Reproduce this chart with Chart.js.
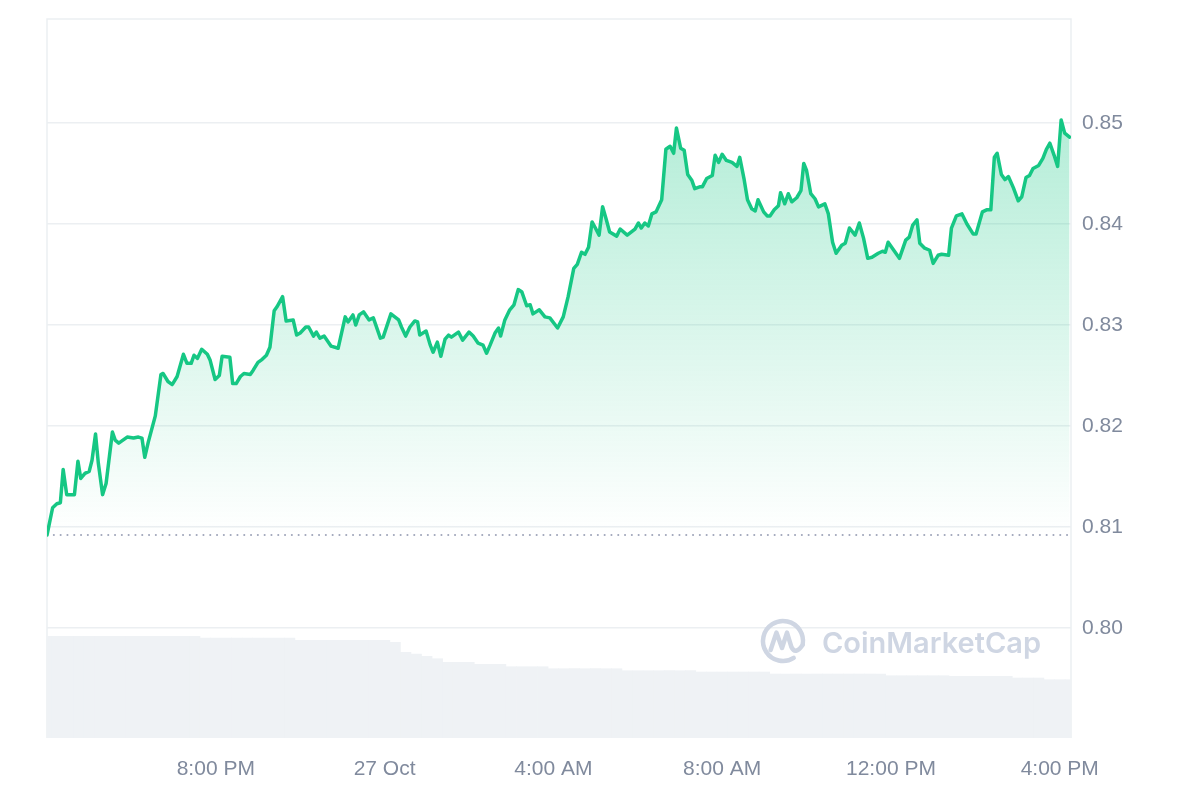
<!DOCTYPE html>
<html>
<head>
<meta charset="utf-8">
<script src="https://cdn.jsdelivr.net/npm/chart.js@4.4.0/dist/chart.umd.min.js"></script>
<style>
html,body{margin:0;padding:0;background:#ffffff;}
#wrap{width:1200px;height:800px;position:relative;}
</style>
</head>
<body>
<div id="wrap"><canvas id="c" width="1200" height="800"></canvas></div>
<script>
// Time in minutes after 26 Oct 4:00 PM
const priceTimes = [0,8,14,19,23,28,39,44,48,54,60,64,69,73,79,84,93,97,102,114,123,130,135,139,144,154,162,165,172,178,185,194,199,205,209,214,220,228,232,239,245,249,260,264,269,275,280,289,293,300,306,312,317,323,327,335,340,350,355,360,368,372,379,383,388,394,404,414,424,428,435,439,444,450,458,464,474,478,489,500,504,510,516,523,527,530,539,545,549,555,560,566,571,575,585,591,600,606,613,620,625,630,637,642,645,651,658,664,670,675,682,687,691,700,708,715,726,734,741,749,754,760,765,770,775,779,785,790,795,800,810,815,825,836,841,845,850,855,860,866,874,880,886,891,895,901,906,911,917,921,929,932,938,946,950,955,960,966,974,981,985,991,996,1002,1007,1011,1019,1024,1028,1034,1040,1043,1049,1054,1059,1066,1072,1076,1080,1086,1092,1097,1106,1111,1117,1122,1130,1135,1141,1149,1155,1161,1167,1173,1182,1188,1192,1196,1203,1212,1221,1226,1231,1237,1241,1248,1255,1260,1267,1272,1282,1286,1293,1301,1308,1317,1321,1330,1336,1342,1347,1351,1357,1362,1367,1374,1381,1386,1392,1397,1402,1410,1416,1421,1426,1432,1437,1442,1447,1454];
const priceValues = [0.8092,0.8119,0.8123,0.8124,0.8157,0.8132,0.8132,0.8165,0.8148,0.8153,0.8155,0.8166,0.8192,0.8163,0.8132,0.8143,0.8194,0.8186,0.8183,0.8189,0.8188,0.8189,0.8188,0.8169,0.8184,0.8210,0.8251,0.8252,0.8244,0.8241,0.8249,0.8271,0.8262,0.8262,0.8270,0.8267,0.8276,0.8271,0.8265,0.8246,0.8250,0.8269,0.8268,0.8242,0.8242,0.8249,0.8252,0.8251,0.8255,0.8263,0.8266,0.8270,0.8278,0.8314,0.8318,0.8328,0.8304,0.8305,0.8290,0.8292,0.8298,0.8298,0.8289,0.8293,0.8287,0.8289,0.8279,0.8277,0.8308,0.8303,0.8310,0.8300,0.8310,0.8313,0.8305,0.8307,0.8287,0.8288,0.8311,0.8305,0.8298,0.8289,0.8298,0.8304,0.8303,0.8290,0.8294,0.8280,0.8273,0.8283,0.8269,0.8286,0.8290,0.8288,0.8293,0.8285,0.8293,0.8289,0.8282,0.8280,0.8272,0.8280,0.8292,0.8297,0.8289,0.8305,0.8315,0.8320,0.8335,0.8333,0.8319,0.8320,0.8311,0.8315,0.8308,0.8307,0.8297,0.8308,0.8328,0.8356,0.8360,0.8372,0.8370,0.8377,0.8402,0.8397,0.8389,0.8417,0.8405,0.8392,0.8388,0.8395,0.8389,0.8395,0.8401,0.8396,0.8401,0.8398,0.8410,0.8412,0.8424,0.8474,0.8477,0.8470,0.8495,0.8475,0.8473,0.8449,0.8443,0.8435,0.8437,0.8437,0.8445,0.8448,0.8468,0.8461,0.8469,0.8463,0.8461,0.8457,0.8466,0.8445,0.8424,0.8415,0.8413,0.8424,0.8412,0.8408,0.8408,0.8414,0.8418,0.8431,0.8420,0.8430,0.8422,0.8426,0.8433,0.8460,0.8453,0.8430,0.8425,0.8417,0.8420,0.8410,0.8382,0.8371,0.8379,0.8381,0.8396,0.8389,0.8401,0.8386,0.8366,0.8367,0.8371,0.8373,0.8372,0.8382,0.8375,0.8366,0.8384,0.8387,0.8399,0.8404,0.8381,0.8376,0.8374,0.8361,0.8369,0.8370,0.8369,0.8396,0.8408,0.8410,0.8400,0.8390,0.8390,0.8412,0.8414,0.8414,0.8466,0.8470,0.8449,0.8444,0.8447,0.8436,0.8423,0.8427,0.8446,0.8448,0.8455,0.8458,0.8465,0.8474,0.8480,0.8468,0.8457,0.8503,0.8490,0.8486];

// Volume (relative units), one bar per 15 minutes
const volumeTimes = [0,15,30,45,60,75,90,105,120,135,150,165,180,195,210,225,240,255,270,285,300,315,330,345,360,375,390,405,420,435,450,465,480,495,510,525,540,555,570,585,600,615,630,645,660,675,690,705,720,735,750,765,780,795,810,825,840,855,870,885,900,915,930,945,960,975,990,1005,1020,1035,1050,1065,1080,1095,1110,1125,1140,1155,1170,1185,1200,1215,1230,1245,1260,1275,1290,1305,1320,1335,1350,1365,1380,1395,1410,1425,1440,1455];
const volumeValues = [10.17,10.17,10.17,10.17,10.17,10.17,10.17,10.17,10.17,10.17,10.17,10.17,10.17,10.17,10.17,10.00,10.00,10.00,10.00,10.00,10.00,10.00,10.00,10.00,9.77,9.77,9.77,9.77,9.77,9.77,9.77,9.77,9.77,9.57,8.57,8.40,8.17,7.93,7.57,7.57,7.57,7.37,7.37,7.37,7.13,7.13,7.13,7.13,6.93,6.93,6.93,6.93,6.93,6.93,6.93,6.73,6.73,6.73,6.73,6.73,6.73,6.73,6.60,6.60,6.60,6.60,6.60,6.60,6.60,6.40,6.40,6.40,6.40,6.40,6.40,6.40,6.40,6.40,6.40,6.40,6.23,6.23,6.23,6.23,6.23,6.23,6.17,6.17,6.17,6.17,6.17,6.17,6.00,6.00,6.00,5.83,5.83,5.83];

const openPrice = 0.8092;
const xMin = 0, xMax = 1456;
const yMin = 0.7891, yMax = 0.8603;
const volMax = 71.9;
const yTickValues = [0.80, 0.81, 0.82, 0.83, 0.84, 0.85];
const xTickMinutes = [240, 480, 720, 960, 1200, 1440];
const xTickLabels = ["8:00 PM", "27 Oct", "4:00 AM", "8:00 AM", "12:00 PM", "4:00 PM"];
const watermarkText = "CoinMarketCap";

const GREEN = '#16c784';
const GRID = '#eceff2';
const LABEL = '#808a9d';

Chart.defaults.font.family = '"Liberation Sans", Arial, Helvetica, sans-serif';
Chart.defaults.font.size = 21;
Chart.defaults.color = LABEL;

const frame = {
  id: 'frame',
  beforeDatasetsDraw(chart) {
    const {ctx, chartArea: a} = chart;
    ctx.save();
    ctx.strokeStyle = GRID;
    ctx.lineWidth = 1.5;
    ctx.beginPath();
    ctx.moveTo(a.left, a.bottom);
    ctx.lineTo(a.left, a.top);
    ctx.lineTo(a.right, a.top);
    ctx.lineTo(a.right, a.bottom);
    ctx.stroke();
    ctx.restore();
  }
};

const watermark = {
  id: 'watermark',
  beforeDatasetsDraw(chart) {
    const {ctx, chartArea: a} = chart;
    const color = '#cfd6e3';
    const cx = a.right - 288, cy = a.bottom - 97, r = 20;
    ctx.save();
    ctx.strokeStyle = color;
    ctx.lineWidth = 4.5;
    ctx.lineCap = 'round';
    ctx.lineJoin = 'round';
    ctx.beginPath();
    ctx.arc(cx, cy, r, 0.32 * Math.PI, 2.05 * Math.PI);
    ctx.stroke();
    ctx.beginPath();
    ctx.moveTo(cx - 0.62 * r, cy + 0.45 * r);
    ctx.lineTo(cx - 0.33 * r, cy - 0.42 * r);
    ctx.lineTo(cx - 0.05 * r, cy + 0.35 * r);
    ctx.lineTo(cx + 0.2 * r, cy - 0.42 * r);
    ctx.lineTo(cx + 0.42 * r, cy + 0.3 * r);
    ctx.quadraticCurveTo(cx + 0.62 * r, cy + 0.72 * r, cx + 0.98 * r, cy + 0.2 * r);
    ctx.stroke();
    ctx.fillStyle = color;
    ctx.font = '600 29px Inter, "Noto Sans", sans-serif';
    ctx.textBaseline = 'alphabetic';
    ctx.textAlign = 'left';
    ctx.fillText(watermarkText, cx + 39, cy + 12);
    ctx.restore();
  }
};

const priceData = priceTimes.map((t, i) => ({x: t, y: priceValues[i]}));
const volumeData = volumeTimes.map((t, i) => ({x: t, y: volumeValues[i]}));

new Chart(document.getElementById('c'), {
  type: 'line',
  data: {
    datasets: [
      {
        type: 'line',
        label: 'Price',
        data: priceData,
        yAxisID: 'y',
        borderColor: GREEN,
        borderWidth: 3.5,
        borderJoinStyle: 'round',
        borderCapStyle: 'round',
        pointRadius: 0,
        tension: 0,
        order: 0,
        fill: {value: openPrice},
        backgroundColor: (c) => {
          const chart = c.chart;
          const a = chart.chartArea;
          if (!a) return 'rgba(22,199,132,0.2)';
          const yb = chart.scales.y.getPixelForValue(openPrice);
          const g = chart.ctx.createLinearGradient(0, a.top, 0, yb);
          g.addColorStop(0, 'rgba(22,199,132,0.40)');
          g.addColorStop(1, 'rgba(22,199,132,0.0)');
          return g;
        }
      },
      {
        type: 'line',
        label: 'Open',
        data: [{x: xMin, y: openPrice}, {x: xMax, y: openPrice}],
        yAxisID: 'y',
        borderColor: '#a1a7bb',
        borderWidth: 2,
        borderDash: [0.1, 6.7],
        borderCapStyle: 'round',
        pointRadius: 0,
        fill: false,
        order: 1
      },
      {
        type: 'bar',
        label: 'Volume',
        data: volumeData,
        yAxisID: 'yVol',
        backgroundColor: '#eff2f5',
        borderWidth: 0,
        barPercentage: 1,
        categoryPercentage: 1,
        order: 2
      }
    ]
  },
  options: {
    responsive: false,
    animation: false,
    devicePixelRatio: 1,
    layout: {padding: {left: 47, top: 19, right: 0, bottom: 0}},
    plugins: {legend: {display: false}, tooltip: {enabled: false}},
    scales: {
      x: {
        type: 'linear',
        min: xMin,
        max: xMax,
        offset: false,
        grid: {display: false, offset: false, drawTicks: false},
        border: {display: false},
        afterBuildTicks: (s) => { s.ticks = xTickMinutes.map(v => ({value: v})); },
        afterFit: (s) => { s.height = 62; s.paddingLeft = 0; s.paddingRight = 0; },
        ticks: {
          autoSkip: false,
          maxRotation: 0,
          padding: 19,
          color: LABEL,
          callback: (v, i) => xTickLabels[i]
        }
      },
      y: {
        type: 'linear',
        position: 'right',
        min: yMin,
        max: yMax,
        grid: {color: GRID, lineWidth: 1.5, drawTicks: false},
        border: {display: false},
        afterBuildTicks: (s) => { s.ticks = yTickValues.map(v => ({value: v})); },
        afterFit: (s) => { s.width = 129; s.paddingTop = 0; s.paddingBottom = 0; },
        ticks: {
          padding: 11,
          color: LABEL,
          callback: (v) => Number(v).toFixed(2)
        }
      },
      yVol: {
        type: 'linear',
        display: false,
        min: 0,
        max: volMax,
        grid: {display: false}
      }
    }
  },
  plugins: [frame, watermark]
});
</script>
</body>
</html>
